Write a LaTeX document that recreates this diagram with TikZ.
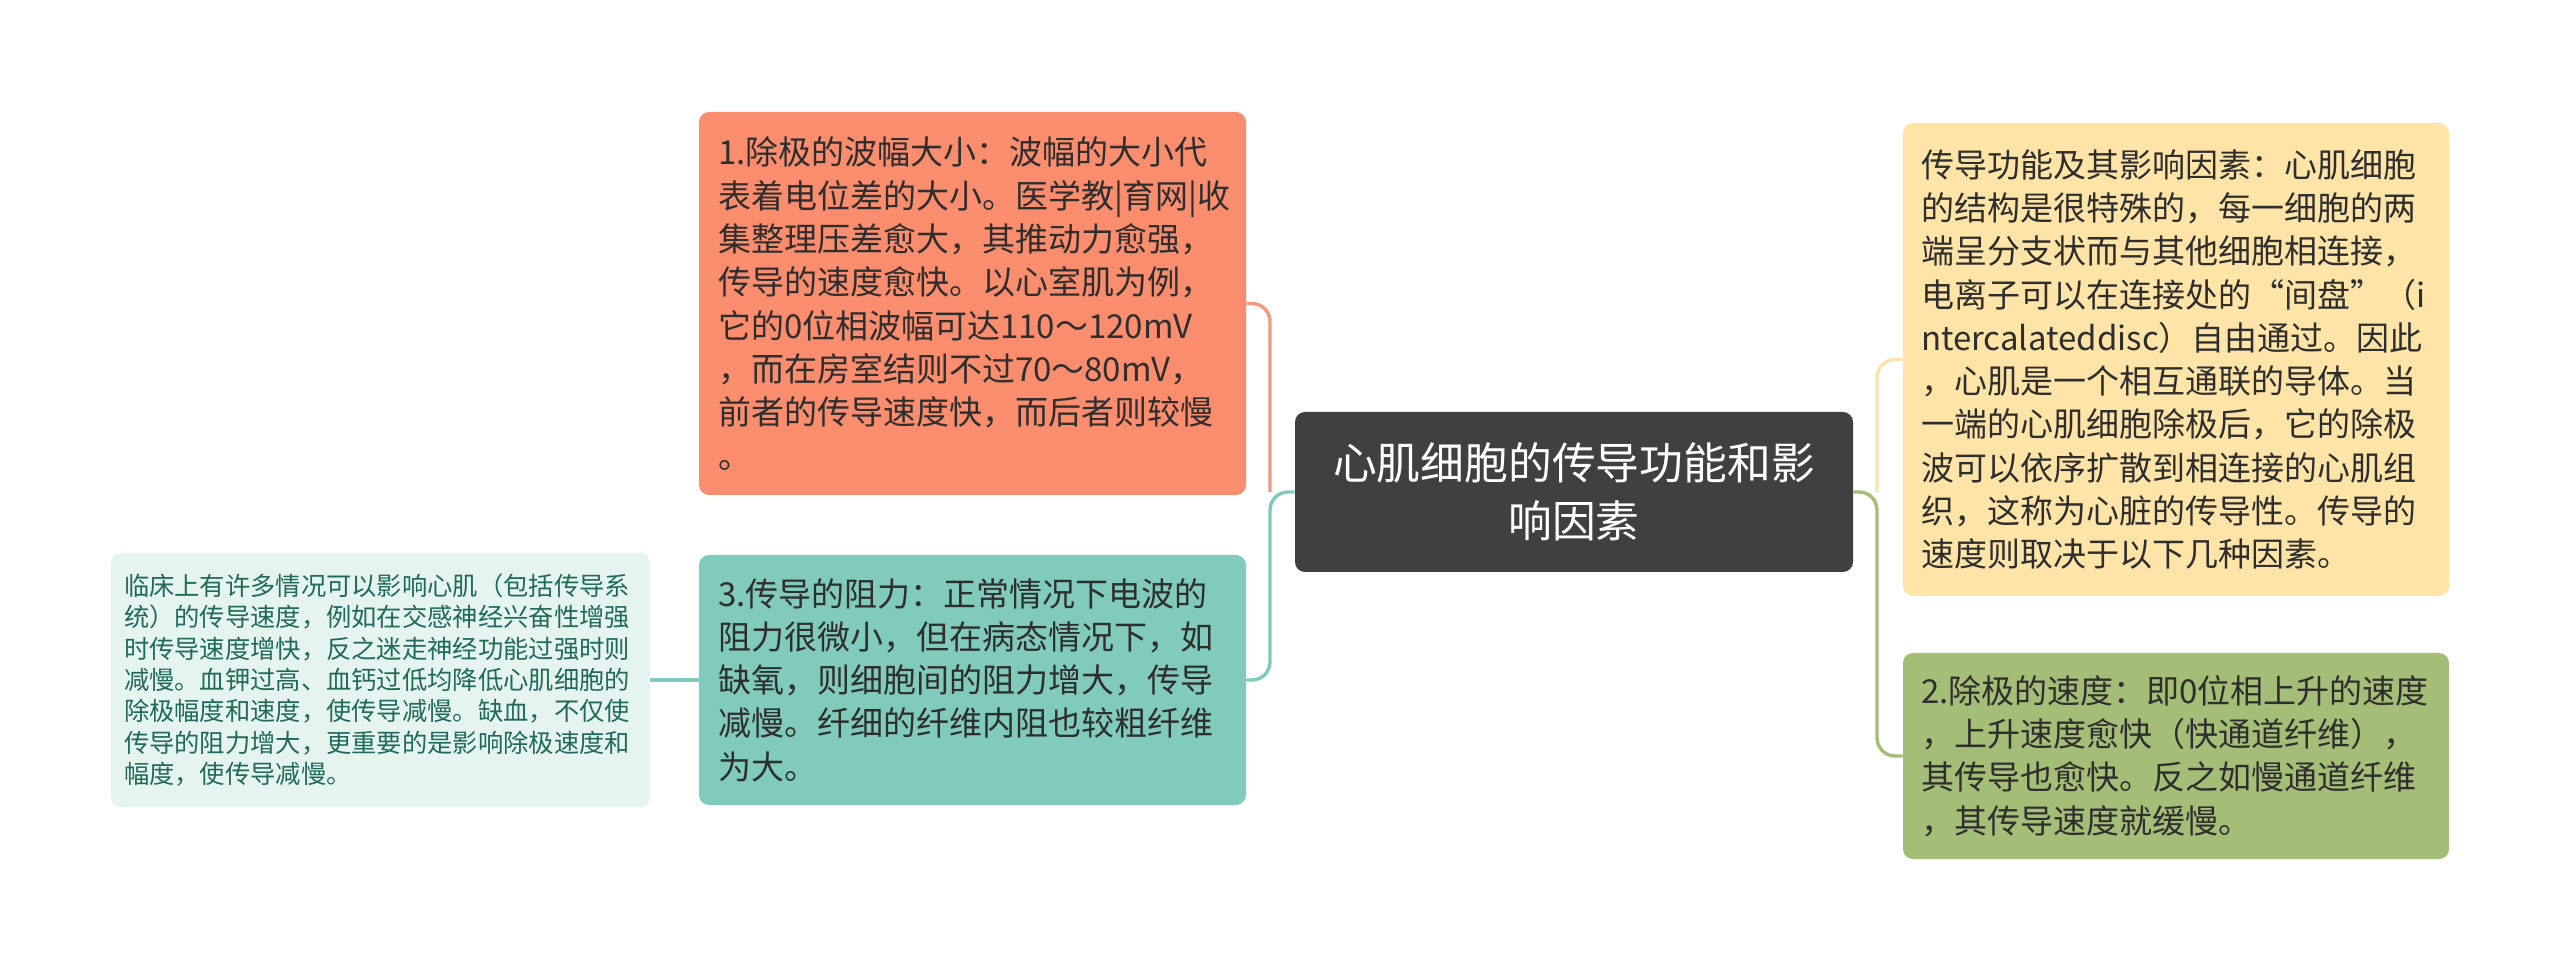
\documentclass[tikz,border=0pt]{standalone}
\usepackage{fontspec}
\setmainfont{Noto Sans CJK SC}
\definecolor{orangebox}{HTML}{FA8D6E}
\definecolor{orangeline}{HTML}{F49A80}
\definecolor{tealbox}{HTML}{80CBBC}
\definecolor{lightteal}{HTML}{E6F4F1}
\definecolor{lighttealtxt}{HTML}{1F6B58}
\definecolor{centralbox}{HTML}{404040}
\definecolor{yellowbox}{HTML}{FFE4A8}
\definecolor{yellowline}{HTML}{FBE3AE}
\definecolor{greenbox}{HTML}{A5BE77}
\definecolor{txt}{HTML}{2E2E2E}
\begin{document}
\begin{tikzpicture}[x=0.5pt,y=-0.5pt,
  leafbox/.style={rectangle, rounded corners=5pt, align=left, inner xsep=9.5pt, inner ysep=0pt,
    text width=254.5pt, minimum width=273.5pt, text=txt,
    font=\fontsize{16.5pt}{21.65pt}\selectfont},
  notebox/.style={rectangle, rounded corners=5pt, align=left, inner xsep=6.5pt, inner ysep=0pt,
    text width=256.5pt, minimum width=269.5pt, text=lighttealtxt, fill=lightteal,
    font=\fontsize{12.65pt}{15.65pt}\selectfont},
  rootbox/.style={rectangle, rounded corners=5pt, align=center, inner sep=0pt,
    minimum width=279pt, minimum height=80pt, fill=centralbox, text=white,
    font=\fontsize{21.9pt}{29pt}\selectfont},
  link/.style={line width=1.7pt, rounded corners=9pt}
]
\fill[white] (0,0) rectangle (2560,972);
\useasboundingbox (0,0) rectangle (2560,972);

\node[rootbox] (c) at (1574,492) {心肌细胞的传导功能和影\\响因素};

\node[leafbox, fill=orangebox, minimum height=191.5pt] (o1) at (972.5,303.5)
 {1.除极的波幅大小：波幅的大小代\\
  表着电位差的大小。医学教|育网|收\\
  集整理压差愈大，其推动力愈强，\\
  传导的速度愈快。以心室肌为例，\\
  它的0位相波幅可达110～120mV\\
  ，而在房室结则不过70～80mV，\\
  前者的传导速度快，而后者则较慢\\
  。};

\node[leafbox, fill=tealbox, minimum height=125pt] (o3) at (972.5,680)
 {3.传导的阻力：正常情况下电波的\\
  阻力很微小，但在病态情况下，如\\
  缺氧，则细胞间的阻力增大，传导\\
  减慢。纤细的纤维内阻也较粗纤维\\
  为大。};

\node[notebox, minimum height=127pt] (lt) at (380.5,680)
 {临床上有许多情况可以影响心肌（包括传导系\\
  统）的传导速度，例如在交感神经兴奋性增强\\
  时传导速度增快，反之迷走神经功能过强时则\\
  减慢。血钾过高、血钙过低均降低心肌细胞的\\
  除极幅度和速度，使传导减慢。缺血，不仅使\\
  传导的阻力增大，更重要的是影响除极速度和\\
  幅度，使传导减慢。};

\node[leafbox, fill=yellowbox, inner xsep=9pt, text width=255pt, minimum width=273pt, minimum height=236.5pt] (y) at (2176,359.5)
 {传导功能及其影响因素：心肌细胞\\
  的结构是很特殊的，每一细胞的两\\
  端呈分支状而与其他细胞相连接，\\
  电离子可以在连接处的“间盘”（i\\
  ntercalateddisc）自由通过。因此\\
  ，心肌是一个相互通联的导体。当\\
  一端的心肌细胞除极后，它的除极\\
  波可以依序扩散到相连接的心肌组\\
  织，这称为心脏的传导性。传导的\\
  速度则取决于以下几种因素。};

\node[leafbox, fill=greenbox, inner xsep=9pt, text width=255pt, minimum width=273pt, minimum height=103pt] (g) at (2176,756)
 {2.除极的速度：即0位相上升的速度\\
  ，上升速度愈快（快通道纤维），\\
  其传导也愈快。反之如慢通道纤维\\
  ，其传导速度就缓慢。};

\coordinate (sl) at (1270,492);
\coordinate (sr) at (1877,492);

\draw[link, orangeline] (sl) |- (o1.east);
\draw[link, tealbox] (c.west) -- (sl) |- (o3.east);
\draw[link, tealbox] (o3.west) -- (lt.east);
\draw[link, yellowline] (sr) |- (y.west);
\draw[link, greenbox] (c.east) -- (sr) |- (g.west);
\end{tikzpicture}
\end{document}
